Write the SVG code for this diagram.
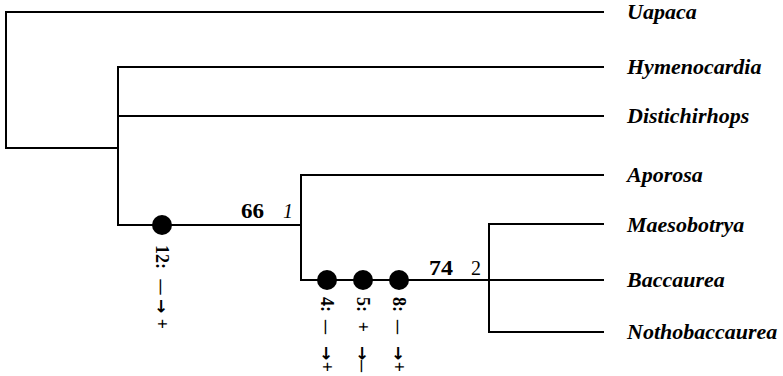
<svg xmlns="http://www.w3.org/2000/svg" width="783" height="376" viewBox="0 0 783 376">
<style>
.br{fill:none;stroke:#000;stroke-width:2;stroke-linecap:square;stroke-linejoin:miter}
.tx{font-family:"Liberation Serif","Times New Roman",serif;font-style:italic;font-weight:bold;font-size:22px;fill:#000}
.bs{font-family:"Liberation Serif","Times New Roman",serif;font-weight:bold;font-size:20px;fill:#000}
.it{font-family:"Liberation Serif","Times New Roman",serif;font-style:italic;font-size:20px;fill:#000}
.nm{font-family:"Liberation Serif","Times New Roman",serif;font-size:20px;fill:#000}
.ch{font-family:"Liberation Serif","DejaVu Serif",serif;font-weight:bold;font-size:18px;fill:#000;dominant-baseline:central}
.ch .m{text-anchor:middle}
.ch .ar{font-family:"DejaVu Sans",sans-serif;font-weight:bold;font-size:17px}
.dot{fill:#000}
</style>
<rect width="783" height="376" fill="#fff"/>
<g id="connectors">
<path class="br" d="M603,12 H6 V148 H118"/>
<path class="br" d="M603,67 H118 V225 H301"/>
<path class="br" d="M118,116 H603"/>
<path class="br" d="M603,175 H301 V280 H489"/>
<path class="br" d="M603,224 H489 V332 H603"/>
<path class="br" d="M489,280 H603"/>
</g>
<g id="taxon-uapaca"><text class="tx" x="627" y="19">Uapaca</text></g>
<g id="taxon-hymenocardia"><text class="tx" x="627" y="74">Hymenocardia</text></g>
<g id="taxon-distichirhops"><text class="tx" x="627" y="123">Distichirhops</text></g>
<g id="taxon-aporosa"><text class="tx" x="627" y="182">Aporosa</text></g>
<g id="taxon-maesobotrya"><text class="tx" x="627" y="232">Maesobotrya</text></g>
<g id="taxon-baccaurea"><text class="tx" x="627" y="287">Baccaurea</text></g>
<g id="taxon-nothobaccaurea"><text class="tx" x="627" y="339">Nothobaccaurea</text></g>
<g id="node-1">
<text class="bs" x="241" y="218" textLength="23" lengthAdjust="spacingAndGlyphs">66</text>
<text class="it" x="283" y="218">1</text>
</g>
<g id="node-2">
<text class="bs" x="429" y="275" textLength="24" lengthAdjust="spacingAndGlyphs">74</text>
<text class="nm" x="471" y="275">2</text>
</g>
<g id="char-12">
<circle class="dot" cx="162" cy="225" r="10"/>
<g class="ch" transform="translate(162,0) rotate(90)">
<text x="245" y="0">12:</text>
<text class="m" x="287" y="0" textLength="15" lengthAdjust="spacingAndGlyphs">–</text>
<text class="m ar" x="306" y="0">→</text>
<text class="m" x="324" y="0">+</text>
</g>
</g>
<g id="char-4">
<circle class="dot" cx="327" cy="280" r="10"/>
<g class="ch" transform="translate(327,0) rotate(90)">
<text x="297" y="0">4:</text>
<text class="m" x="327" y="0" textLength="14" lengthAdjust="spacingAndGlyphs">–</text>
<text class="m ar" x="353" y="0">→</text>
<text class="m" x="367" y="0">+</text>
</g>
</g>
<g id="char-5">
<circle class="dot" cx="363" cy="280" r="10"/>
<g class="ch" transform="translate(363,0) rotate(90)">
<text x="297" y="0">5:</text>
<text class="m" x="327" y="0">+</text>
<text class="m ar" x="353" y="0">→</text>
<text class="m" x="366" y="0" textLength="12" lengthAdjust="spacingAndGlyphs">–</text>
</g>
</g>
<g id="char-8">
<circle class="dot" cx="399" cy="280" r="10"/>
<g class="ch" transform="translate(399,0) rotate(90)">
<text x="297" y="0">8:</text>
<text class="m" x="327" y="0" textLength="14" lengthAdjust="spacingAndGlyphs">–</text>
<text class="m ar" x="353" y="0">→</text>
<text class="m" x="367" y="0">+</text>
</g>
</g>
</svg>
